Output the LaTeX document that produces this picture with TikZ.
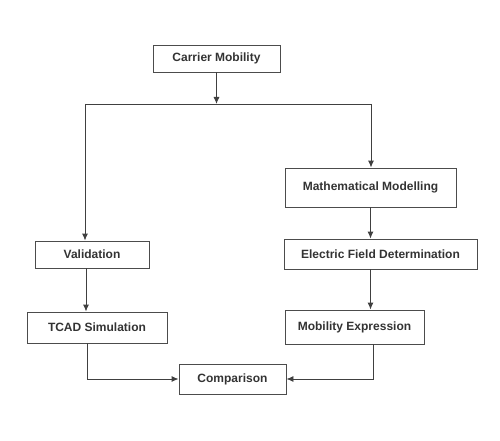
\documentclass[tikz,border=0pt]{standalone}
\usepackage{fontspec}
\setmainfont{Liberation Sans}
\usetikzlibrary{arrows.meta}
\tikzset{
stage/.style={ % boxes of the flow chart
draw=black!70,
line width=0.9pt,
inner sep=0pt,
text=black!80,
font=\fontsize{12}{14}\selectfont\bfseries},
link/.style={ % plain connecting line
draw=black!75,
line width=0.9pt},
flow/.style={ % directed connector
link,
-{Latex[length=7pt,width=6pt]}}}

\begin{document}
\begin{tikzpicture}[x=1pt, y=-1pt]
\useasboundingbox (0,0) rectangle (500,441);
\node[stage, minimum width=127pt, minimum height=27pt] (cm) at (216.5,58.5) {Carrier Mobility};
\node[stage, minimum width=114pt, minimum height=27pt] (val) at (92,254.5) {Validation};
\node[stage, minimum width=140pt, minimum height=31pt] (tcad) at (97,327.5) {TCAD Simulation};
\node[stage, minimum width=171pt, minimum height=39pt] (mm) at (370.5,187.5) {Mathematical Modelling};
\node[stage, minimum width=193pt, minimum height=30pt] (efd) at (380.5,254) {Electric Field Determination};
\node[stage, minimum width=139pt, minimum height=34pt] (mexp) at (354.5,327) {Mobility Expression};
\node[stage, minimum width=107pt, minimum height=30pt] (cmp) at (232.5,379) {Comparison};

\coordinate (jl) at (85,104);
\coordinate (jr) at (371,104);

\draw[flow] (cm.south) -- (cm.south |- jl);
\draw[link] (jl) -- (jr);
\draw[flow] (jl) -- (jl |- val.north);
\draw[flow] (jr) -- (jr |- mm.north);
\draw[flow] ([xshift=-6pt]val.south) -- ([xshift=-6pt]val.south |- tcad.north);
\draw[flow] (mm.south) -- (mm.south |- efd.north);
\draw[flow] (efd.south -| mm.south) -- (mexp.north -| mm.south);
\draw[flow] ([xshift=-10pt]tcad.south) |- (cmp.west);
\draw[flow] ([xshift=18.5pt]mexp.south) |- (cmp.east);
\end{tikzpicture}
\end{document}
